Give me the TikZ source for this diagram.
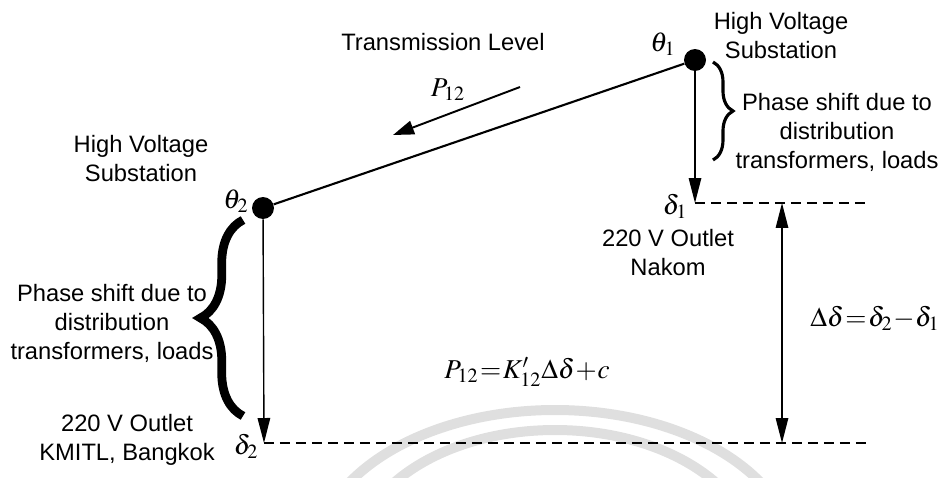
\documentclass[tikz,border=0pt]{standalone}
\usepackage{mathptmx}
\usepackage{fontspec}
\setmainfont{Liberation Sans}
\usetikzlibrary{arrows.meta,decorations.pathreplacing}
\newcommand\mathtight{\thickmuskip=1mu\relax\medmuskip=0.5mu\relax}

\begin{document}
\begin{tikzpicture}[x=0.02cm, y=-0.02cm,
    bus/.style={circle, fill=black, inner sep=0pt, minimum size=0.44cm},
    txt/.style={align=center, font=\fontsize{13.5}{16.5}\selectfont, inner sep=0pt},
    sym/.style={font=\fontsize{15.5}{17}\selectfont, execute at begin node=\mathtight, inner sep=0pt},
    drop/.style={-{Triangle[length=0.5cm, width=0.25cm]}, line width=0.8pt},
    both/.style={{Triangle[length=0.5cm, width=0.25cm]}-{Triangle[length=0.5cm, width=0.25cm]}, line width=0.8pt},
    level/.style={dash pattern=on 0.2cm off 0.12cm, line width=1.1pt},
    curl/.style={decorate, decoration={brace, amplitude=#1}},
    wmark/.style={gray!25, line width=0.2cm}]
    \useasboundingbox (0,0) rectangle (947,477);

    % faint watermark arcs
    \begin{scope}
        \clip (0,0) rectangle (947,477);
        \draw[wmark] (555,560) ellipse [x radius=240, y radius=150];
        \draw[wmark] (555,560) ellipse [x radius=200, y radius=130];
    \end{scope}

    % Define positions of the substations
    \node[bus] (s1) at (695, 60) {};
    \node[bus] (s2) at (263, 208) {};
    \node[sym] (th1) at (663, 44) {$\theta_1$};
    \node[sym] (th2) at (236, 201) {$\theta_2$};
    \node[txt] (hv1) at (781, 36) {High Voltage\\Substation};
    \node[txt] (hv2) at (141, 159) {High Voltage\\Substation};

    % Transmission line and power flow
    \draw[line width=1.2pt] (s2) -- (s1);
    \node[txt] (tl) at (443, 42) {Transmission Level};
    \coordinate (pa) at (520, 87);
    \coordinate (pb) at (393, 135);
    \draw[-{Triangle[length=0.42cm, width=0.28cm]}, line width=1.1pt] (pa) -- (pb);
    \node[sym] (p12) at (448, 90) {$P_{12}$};

    % Outlet levels
    \coordinate (d1) at (695, 203);
    \coordinate (d2) at (264, 443);
    \coordinate (e1) at (870, 203);
    \coordinate (e2) at (870, 443);
    \coordinate (m1) at (782, 203);
    \coordinate (m2) at (782, 443);
    \draw[drop] (s1) -- (d1);
    \draw[drop] (s2) -- (d2);
    \draw[level] (d1) -- (e1);
    \draw[level] (d2) -- (e2);
    \draw[both] (m1) -- (m2);

    \node[sym] (dl1) at (675, 206) {$\delta_1$};
    \node[sym] (dl2) at (246, 446) {$\delta_2$};
    \node[txt] (o1) at (668, 253) {220 V Outlet\\Nakom};
    \node[txt] (o2) at (127, 440) {220 V Outlet\\KMITL, Bangkok};
    \node[sym] (dd) at (875, 318) {$\Delta\delta=\delta_2-\delta_1$};
    \node[sym] (eq) at (527, 372) {$P_{12}=K'_{12}\Delta\delta+c$};

    % Phase shift braces
    \coordinate (b1t) at (713, 62);
    \coordinate (b1b) at (713, 160);
    \coordinate (b2t) at (243, 220);
    \coordinate (b2b) at (243, 416);
    \draw[curl=0.4cm, line width=1.8pt] (b1t) -- (b1b);
    \draw[curl=0.85cm, line width=5pt] (b2b) -- (b2t);
    \node[txt] (ph1) at (837, 132) {Phase shift due to\\distribution\\transformers, loads};
    \node[txt] (ph2) at (112, 323) {Phase shift due to\\distribution\\transformers, loads};
\end{tikzpicture}
\end{document}
